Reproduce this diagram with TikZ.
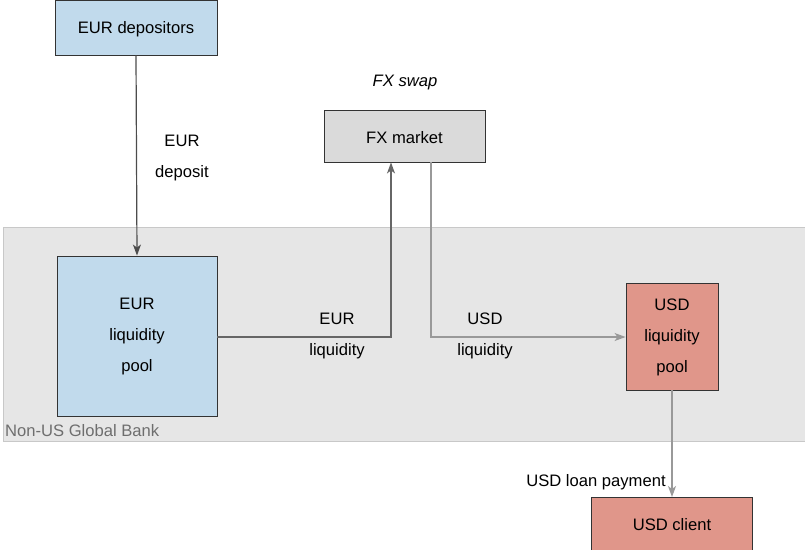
\documentclass[tikz,border=0pt]{standalone}
\usepackage{fontspec}
\setmainfont{Liberation Sans}
\usetikzlibrary{arrows.meta}
\definecolor{eurblue}{RGB}{193,218,236}
\definecolor{usdred}{RGB}{224,150,138}
\definecolor{fxgray}{RGB}{218,218,218}
\definecolor{bankfill}{RGB}{230,230,230}
\definecolor{bankline}{RGB}{200,200,200}
\definecolor{banktext}{RGB}{110,110,110}
\begin{document}
\begin{tikzpicture}[x=1pt,y=-1pt,
  font=\fontsize{16.6}{20}\selectfont,
  box/.style={draw=black!80,line width=0.9pt,inner sep=0pt,align=center},
  lbl/.style={inner sep=0pt,align=center,yshift=-2pt},
  arr/.style={line width=1.2pt,-{Stealth[length=11pt,width=8pt,inset=3pt]}},
]
\useasboundingbox (0,0) rectangle (805,549);
% bank region
\node[draw=bankline,fill=bankfill,line width=1pt,minimum width=810pt,minimum height=214pt,anchor=north west,inner sep=0pt] (bank) at (3,227) {};
\node[lbl,anchor=west,text=banktext] (banklbl) at (5,429) {Non-US Global Bank};
% boxes
\node[box,fill=eurblue,minimum width=162pt,minimum height=55pt] (dep) at (136,27.5) {};
\node[lbl] (deptxt) at (136,27.5) {EUR depositors};
\node[box,fill=eurblue,minimum width=160pt,minimum height=160pt] (eurpool) at (137,336) {};
\node[lbl] (eurpooltxt) at (137,335) {EUR\\[11pt]liquidity\\[11pt]pool};
\node[box,fill=fxgray,minimum width=161pt,minimum height=52pt] (fx) at (404.5,136) {};
\node[lbl] (fxtxt) at (404.5,136) {FX market};
\node[lbl] (swap) at (405,81) {\itshape FX swap};
\node[box,fill=usdred,minimum width=92pt,minimum height=107pt] (usdpool) at (672,336.5) {};
\node[lbl] (usdpooltxt) at (672,335) {USD\\[11pt]liquidity\\[11pt]pool};
\node[box,fill=usdred,minimum width=161pt,minimum height=60pt,anchor=north] (client) at (672,497) {};
\node[lbl] (clienttxt) at (672,523) {USD client};
% coordinates
\coordinate (c1) at (391,337);
\coordinate (c2) at (431,337);
% arrows
\draw[arr,draw=black!70] (dep.south) -- (eurpool.north);
\node[lbl] (l1) at (182,139) {EUR};
\node[lbl] (l2) at (182,171) {deposit};
\draw[arr,draw=black!60] (eurpool.east |- c1) -- (c1) -- (c1 |- fx.south);
\node[lbl] (l3) at (337,317) {EUR};
\node[lbl] (l4) at (337,349) {liquidity};
\draw[arr,draw=black!40] (c2 |- fx.south) -- (c2) -- (usdpool.west |- c2);
\node[lbl] (l5) at (485,317) {USD};
\node[lbl] (l6) at (485,349) {liquidity};
\draw[arr,draw=black!40] (usdpool.south) -- (client.north);
\node[lbl] (l7) at (596,480) {USD loan payment};
\end{tikzpicture}
\end{document}
